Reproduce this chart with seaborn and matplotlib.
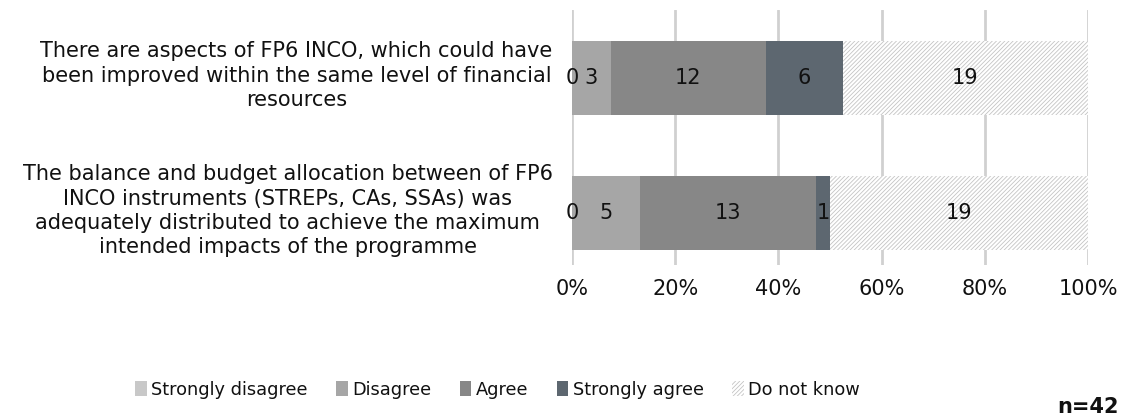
import numpy as np
import pandas as pd
import matplotlib
matplotlib.use('Agg')
import matplotlib.pyplot as plt
import matplotlib.transforms as mtransforms
from matplotlib.patches import Patch
import seaborn as sns

# --- data ---
statements = [
    "There are aspects of FP6 INCO, which could have\nbeen improved within the same level of financial\nresources",
    "The balance and budget allocation between of FP6\nINCO instruments (STREPs, CAs, SSAs) was\nadequately distributed to achieve the maximum\nintended impacts of the programme",
]
responses = ["Strongly disagree", "Disagree", "Agree", "Strongly agree", "Do not know"]
strongly_disagree = [0, 0]
disagree = [3, 5]
agree = [12, 13]
strongly_agree = [6, 1]
do_not_know = [19, 19]
n_label = "n=42"

colors = ["#c8c8c8", "#a6a6a6", "#878787", "#5d6770", "white"]

counts = np.array([strongly_disagree, disagree, agree, strongly_agree, do_not_know], dtype=float)
pct = counts / counts.sum(axis=0) * 100
cum = np.cumsum(pct, axis=0)

sns.set_style("white")
plt.rcParams['font.family'] = ['DejaVu Sans']
plt.rcParams['text.color'] = '#111111'
plt.rcParams['xtick.color'] = '#111111'
plt.rcParams['ytick.color'] = '#111111'
plt.rcParams['hatch.linewidth'] = 0.6

FS = 15

fig = plt.figure(figsize=(11.33, 4.18), dpi=100)
ax = fig.add_axes([572 / 1133, 1 - 265 / 418, (1088 - 572) / 1133, 255 / 418])

# draw cumulative bars back to front so they look stacked
for i in range(len(responses) - 1, -1, -1):
    df = pd.DataFrame({"statement": statements, "value": cum[i]})
    sns.barplot(data=df, x="value", y="statement", orient="h", width=0.55,
                color=colors[i], saturation=1, ax=ax, zorder=2)
    for p in ax.containers[-1]:
        p.set_facecolor(colors[i])
        p.set_linewidth(0)
        if responses[i] == "Do not know":
            p.set_hatch("////////")
            p.set_edgecolor("#c4c4c4")
            p.set_linewidth(0)

# value labels in segment centres
for i in range(len(responses)):
    for j in range(len(statements)):
        left = cum[i][j] - pct[i][j]
        ax.text(left + pct[i][j] / 2, j, f"{int(counts[i][j])}", ha="center", va="center",
                fontsize=FS, color="#111111", zorder=5)

ax.set_xlim(0, 100)
ax.set_ylim(1.385, -0.504)
ax.set_xticks(np.arange(0, 101, 20))
ax.set_xticklabels([f"{v}%" for v in range(0, 101, 20)], fontsize=FS)
ax.tick_params(axis="x", length=0, pad=10)
ax.tick_params(axis="y", length=0, pad=14, labelsize=FS)
shift = mtransforms.ScaledTranslation(0, 0.065, fig.dpi_scale_trans)
for lab in ax.get_yticklabels():
    lab.set_multialignment("center")
    lab.set_linespacing(1.28)
    lab.set_transform(lab.get_transform() + shift)
ax.set_xlabel("")
ax.set_ylabel("")
ax.xaxis.grid(True, color="#d0d0d0", linewidth=2)
ax.set_axisbelow(True)
for s in ax.spines.values():
    s.set_visible(False)

handles = []
for i, r in enumerate(responses):
    if r == "Do not know":
        handles.append(Patch(facecolor="white", edgecolor="#c4c4c4", hatch="////////", linewidth=0, label=r))
    else:
        handles.append(Patch(facecolor=colors[i], linewidth=0, label=r))
fig.legend(handles=handles, loc="center", bbox_to_anchor=(0.439, 0.068), ncol=5, frameon=False,
           fontsize=12.8, handlelength=0.65, handleheight=0.85, handletextpad=0.25, columnspacing=1.6)

fig.text(1088 / 1133, 1 - 407 / 418, n_label, ha="center", va="center", fontsize=FS, fontweight="bold")

fig.savefig("out.png", dpi=100)
